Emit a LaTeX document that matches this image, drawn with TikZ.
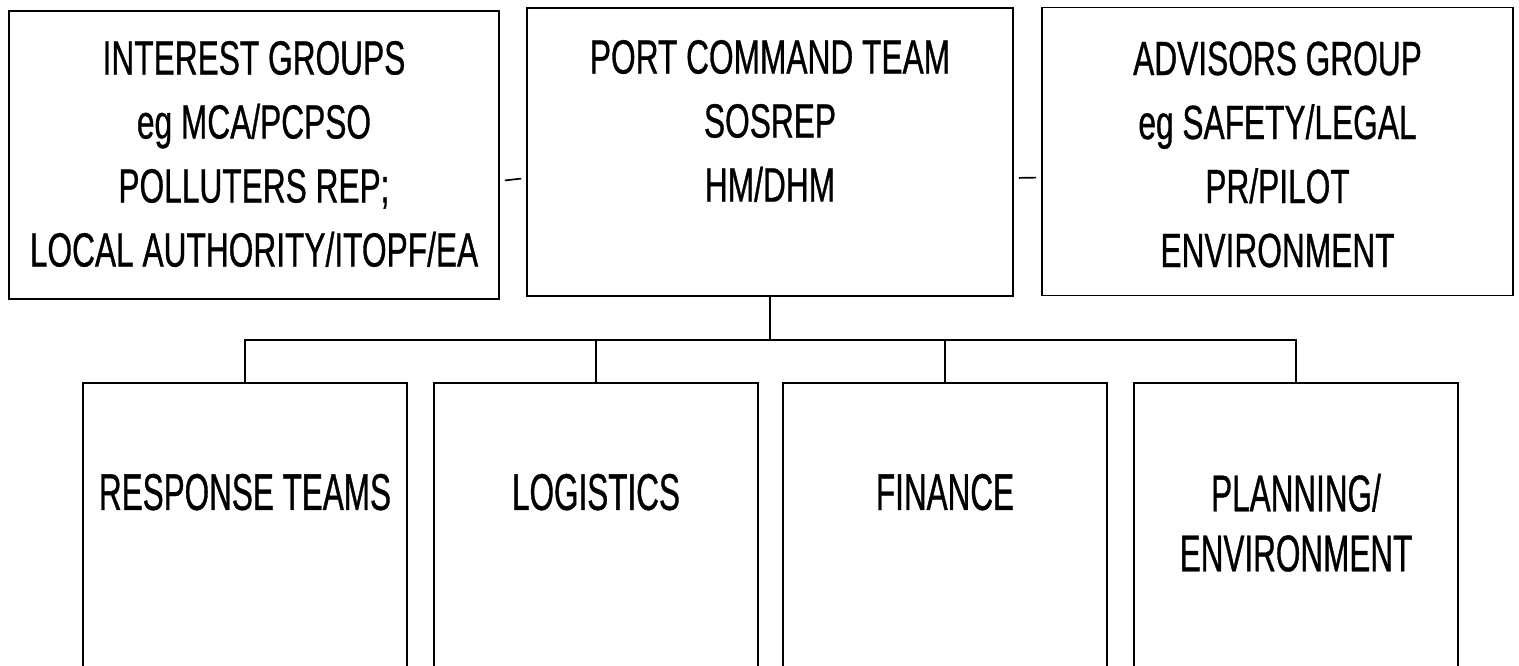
\documentclass[tikz,border=0pt]{standalone}
\usepackage{fontspec}
\setmainfont{Liberation Sans}[FakeStretch=0.66, FakeBold=0.7]
\newfontfamily\lowfont{Liberation Sans}[FakeStretch=0.61, FakeBold=0.7]
\usetikzlibrary{positioning}

\begin{document}
\begin{tikzpicture}[
    x = 0.5pt, y = -0.5pt,
    line width = 0.85pt,
    box/.style = {draw, rectangle, inner sep = 0pt},
    topbox/.style = {box, minimum height = 144pt},
    lowbox/.style = {box, minimum width = 162pt, minimum height = 143pt, anchor = north},
    toptext/.style = {font = \fontsize{24}{32}\selectfont, align = center, inner sep = 0pt, anchor = north},
    lowtext/.style = {font = \lowfont\fontsize{25.8}{30}\selectfont, align = center, inner sep = 0pt, anchor = north}]

\useasboundingbox (0,0) rectangle (1519,665);
\clip (0,0) rectangle (1519,665);

% command row
\path (254,155) node[topbox, minimum width = 245pt] (interest) {}
      (770,152) node[topbox, minimum width = 243pt] (command) {}
      (1277.5,151.5) node[topbox, minimum width = 235.5pt] (advisors) {};

\node[toptext, below = 15pt of interest.north] (interesttxt)
    {INTEREST GROUPS\\ eg MCA/PCPSO\\ POLLUTERS REP;\\ LOCAL AUTHORITY/ITOPF/EA};
\node[toptext, below = 16pt of command.north] (commandtxt)
    {PORT COMMAND TEAM\\ SOSREP\\ HM/DHM};
\node[toptext, below = 17pt of advisors.north] (advisorstxt)
    {ADVISORS GROUP\\ eg SAFETY/LEGAL\\ PR/PILOT\\ ENVIRONMENT};

% links between the groups
\draw[shorten <= 2.5pt, shorten >= 2.5pt]
    ([yshift=-13pt]interest.east) -- ([yshift=-13pt]command.west);
\draw[shorten <= 2.5pt, shorten >= 2.5pt]
    ([yshift=-13pt]command.east) -- ([yshift=-13pt]advisors.west);

% cells
\path (245,382) node[lowbox] (response) {}
      (596,382) node[lowbox] (logistics) {}
      (945,382) node[lowbox] (finance) {}
      (1296,382) node[lowbox] (planning) {};

\node[lowtext, below = 45.5pt of response.north] (responsetxt) {RESPONSE TEAMS};
\node[lowtext, below = 45.5pt of logistics.north] (logisticstxt) {LOGISTICS};
\node[lowtext, below = 45.5pt of finance.north] (financetxt) {FINANCE};
\node[lowtext, below = 45.5pt of planning.north] (planningtxt) {PLANNING/\\ ENVIRONMENT};

% tree
\coordinate (bus) at (771,340);
\draw (command.south) -- (command.south |- bus);
\draw (response.north) -- (response.north |- bus) --
      (planning.north |- bus) -- (planning.north);
\foreach \cell in {logistics, finance}
    \draw (\cell.north) -- (\cell.north |- bus);

\end{tikzpicture}
\end{document}
